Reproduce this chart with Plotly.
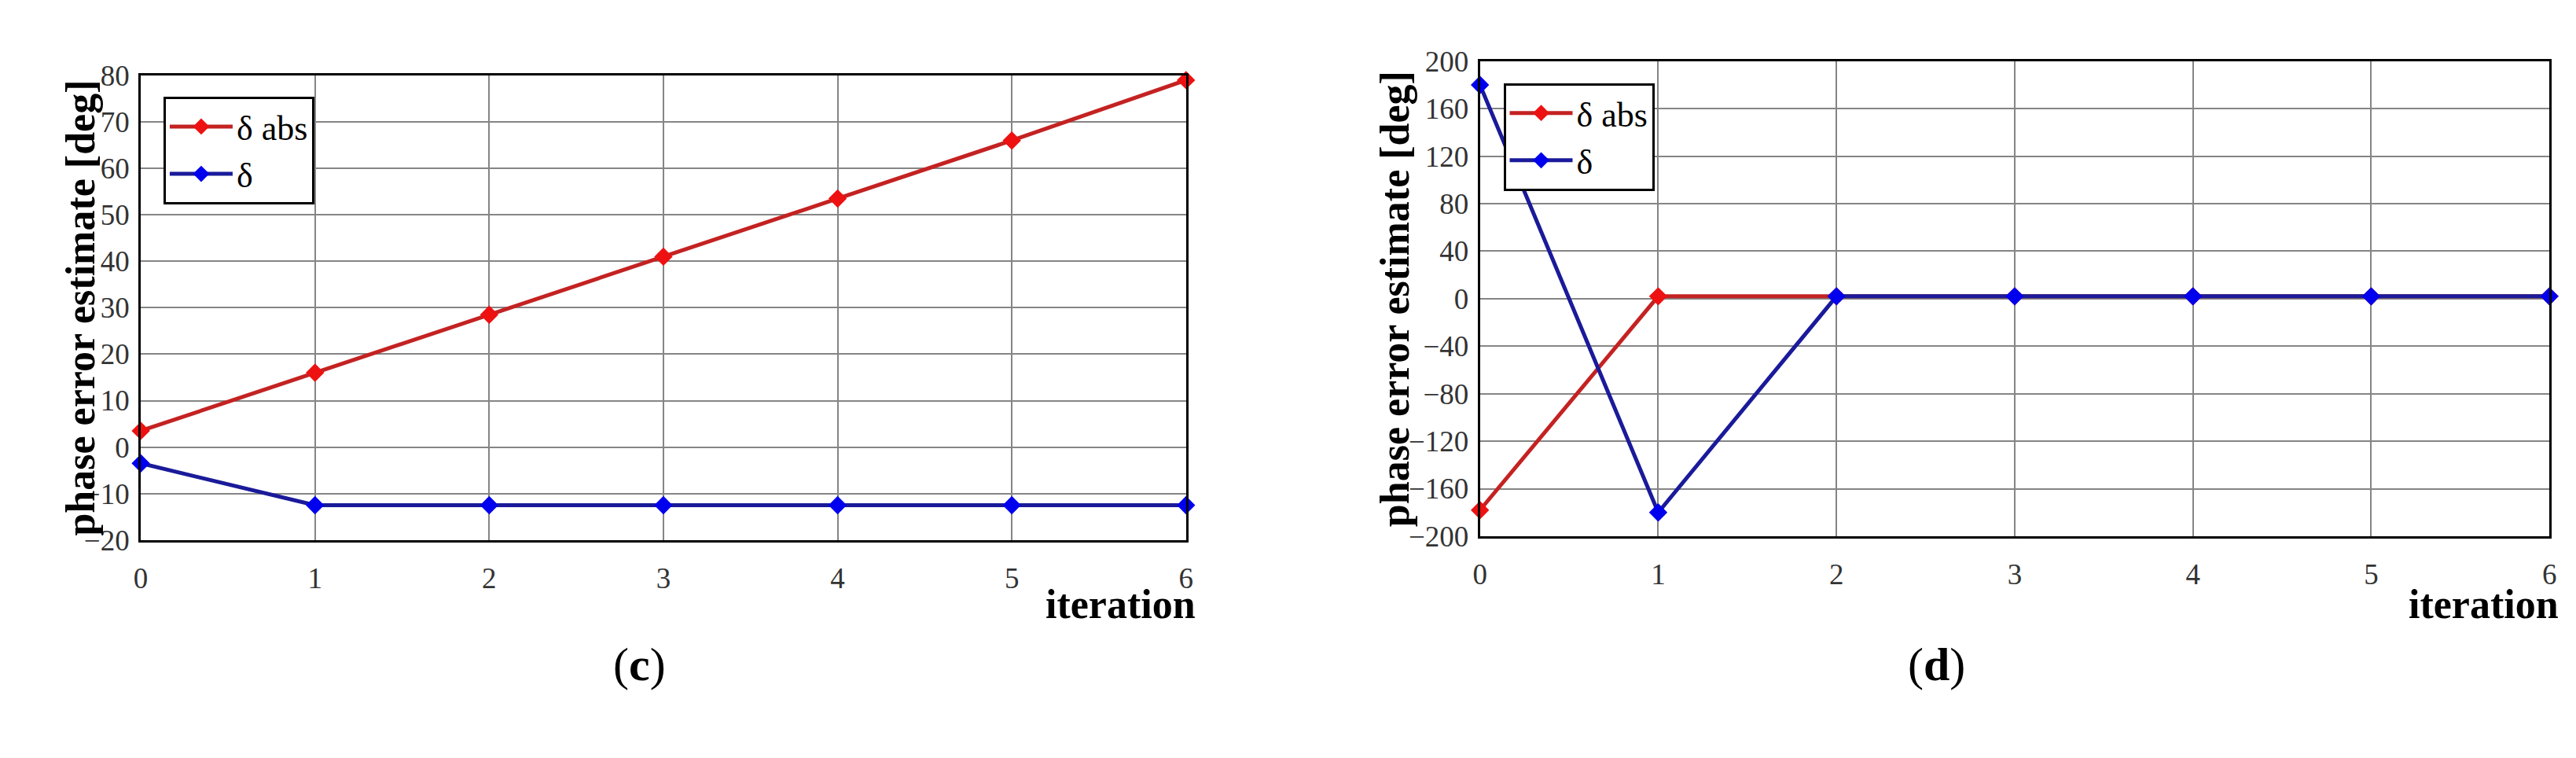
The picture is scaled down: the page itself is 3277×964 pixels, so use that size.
import plotly.graph_objects as go
from plotly.subplots import make_subplots

# ---data--- #
iteration = [0, 1, 2, 3, 4, 5, 6]
c_delta_abs = [3.5, 16, 28.5, 41, 53.5, 66, 79]
c_delta = [-3.5, -12.5, -12.5, -12.5, -12.5, -12.5, -12.5]
d_delta_abs = [-178, 2, 2, 2, 2, 2, 2]
d_delta = [180, -180, 2, 2, 2, 2, 2]
panel_labels = ["(c)", "(d)"]

W, H = 3277, 964
FONT = "Liberation Serif"
RED_LINE, RED_MK = "#c42222", "#ee1111"
BLUE_LINE, BLUE_MK = "#1a1a9a", "#0000ee"

fig = make_subplots(rows=1, cols=2)

panels = [(c_delta_abs, c_delta), (d_delta_abs, d_delta)]
for i, (ya, yd) in enumerate(panels):
    col = i + 1
    fig.add_trace(go.Scatter(x=iteration, y=ya, mode="lines+markers", name="δ abs",
                             line=dict(color=RED_LINE, width=5),
                             marker=dict(symbol="diamond", size=18, color=RED_MK),
                             legend="legend" if i == 0 else "legend2", cliponaxis=False),
                  row=1, col=col)
    fig.add_trace(go.Scatter(x=iteration, y=yd, mode="lines+markers", name="δ",
                             line=dict(color=BLUE_LINE, width=5),
                             marker=dict(symbol="diamond", size=18, color=BLUE_MK),
                             legend="legend" if i == 0 else "legend2", cliponaxis=False),
                  row=1, col=col)

# axis boxes (pixel positions)
boxes = [(163, 1500, 71, 688), (1876, 3244, 52, 683)]
ranges = [([-20, 80], 10), ([-200, 200], 40)]
for i, (x0, x1, t, b) in enumerate(boxes):
    xa = "xaxis" if i == 0 else "xaxis2"
    ya = "yaxis" if i == 0 else "yaxis2"
    ax = dict(showline=True, linecolor="black", linewidth=3, mirror=True,
              showgrid=True, gridcolor="#858585", gridwidth=2, zeroline=False,
              ticks="", tickfont=dict(family=FONT, size=37, color="#333333"))
    fig.layout[xa].update(domain=[x0 / W, x1 / W], range=[0, 6], dtick=1,
                          ticklabelstandoff=14, **ax)
    fig.layout[ya].update(domain=[1 - b / H, 1 - t / H], range=ranges[i][0],
                          dtick=ranges[i][1], ticklabelstandoff=4, **ax)
    # y title
    fig.add_annotation(text="<b>phase error estimate [deg]</b>", xref="paper", yref="paper",
                       x=(x0 - 108) / W, y=1 - (t + b) / 2 / H, textangle=-90, showarrow=False,
                       font=dict(family=FONT, size=52, color="black"))
    # x title
    fig.add_annotation(text="<b>iteration</b>", xref="paper", yref="paper",
                       x=(x1 + 14) / W, y=1 - 742 / H, xanchor="right", yanchor="top",
                       showarrow=False, font=dict(family=FONT, size=52, color="black"))
    fig.add_annotation(text="(<b>%s</b>)" % panel_labels[i][1], xref="paper", yref="paper",
                       x=(765 if i == 0 else 2499) / W, y=1 - 890 / H, showarrow=False,
                       font=dict(family=FONT, size=60, color="black"))

leg = dict(bgcolor="white", bordercolor="black", borderwidth=3, xanchor="left", yanchor="top",
           font=dict(family=FONT, size=44, color="black"), itemwidth=80, tracegroupgap=0)
fig.update_layout(
    width=W, height=H, margin=dict(l=0, r=0, t=0, b=0),
    paper_bgcolor="white", plot_bgcolor="white",
    legend=dict(x=192 / W, y=1 - 99 / H, **leg),
    legend2=dict(x=1906 / W, y=1 - 81 / H, **leg),
)

fig.write_html("out.html")
